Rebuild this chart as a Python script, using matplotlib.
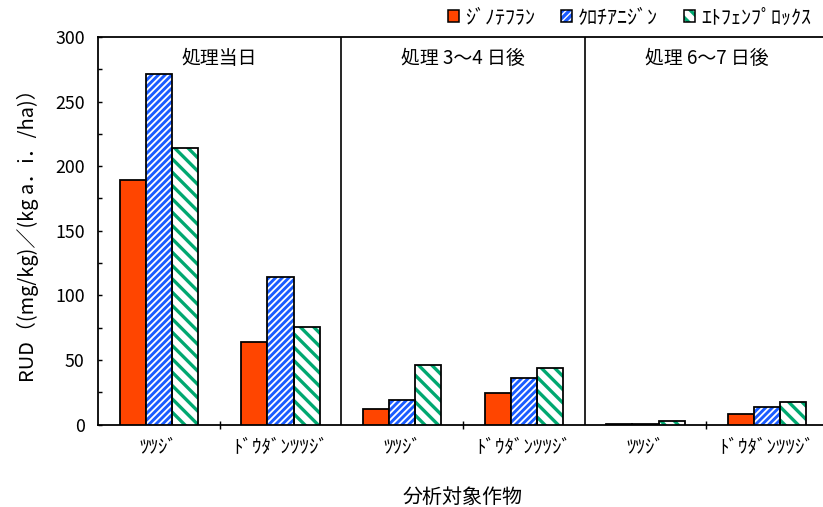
import numpy as np
import matplotlib
matplotlib.use("Agg")
import matplotlib.pyplot as plt
from matplotlib.patches import Patch
from matplotlib.legend_handler import HandlerTuple
from matplotlib.ticker import MultipleLocator

plt.rcParams['font.family'] = ['Noto Sans CJK JP', 'DejaVu Sans']

# crops, two per treatment period
crops = ['ﾂﾂｼﾞ', 'ﾄﾞｳﾀﾞﾝﾂﾂｼﾞ', 'ﾂﾂｼﾞ', 'ﾄﾞｳﾀﾞﾝﾂﾂｼﾞ', 'ﾂﾂｼﾞ', 'ﾄﾞｳﾀﾞﾝﾂﾂｼﾞ']
periods = ['処理当日', '処理 3〜4 日後', '処理 6〜7 日後']
pesticides = ['ｼﾞﾉﾃﾌﾗﾝ', 'ｸﾛﾁｱﾆｼﾞﾝ', 'ｴﾄﾌｪﾝﾌﾟﾛｯｸｽ']

dinotefuran = [189.5, 63.8, 12.3, 24.6, 0.3, 8.4]
clothianidin = [271.5, 114.3, 19.0, 36.2, 0.6, 13.7]
etofenprox = [214.0, 75.8, 45.8, 43.5, 2.6, 17.4]

colors = ['#ff4500', '#1a5cff', '#00a870']
hatches = [None, '////', '\\\\']
hatch_lw = [1.0, 2.6, 3.0]

DPI = 80
fig = plt.figure(figsize=(823 / DPI, 507 / DPI), dpi=DPI)
ax = fig.add_axes([98 / 823, 82.5 / 507, 730 / 823, 387.5 / 507])

x = np.arange(len(crops))
w = 0.214
handles = []
for i, vals in enumerate([dinotefuran, clothianidin, etofenprox]):
    pos = x + (i - 1) * w
    if hatches[i] is None:
        ax.bar(pos, vals, w, color=colors[i], edgecolor='black', linewidth=1.6, zorder=3)
        handles.append(Patch(facecolor=colors[i], edgecolor='black', linewidth=1.4))
    else:
        plt.rcParams['hatch.linewidth'] = hatch_lw[i]
        ax.bar(pos, vals, w, color='white', edgecolor=colors[i], hatch=hatches[i],
               linewidth=0, zorder=3)
        ax.bar(pos, vals, w, color='none', edgecolor='black', linewidth=1.6, zorder=4)
        h1 = Patch(facecolor='white', edgecolor=colors[i], hatch=hatches[i], linewidth=0)
        h2 = Patch(facecolor='none', edgecolor='black', linewidth=1.4)
        handles.append((h1, h2))

ax.set_xlim(-0.5, 5.5)
ax.set_ylim(0, 300)

# panel separators and titles
for b in [1.5, 3.5]:
    ax.axvline(b, color='black', linewidth=1.5, zorder=5)
for k, p in enumerate(periods):
    ax.text(2 * k + 0.5, 283, p, ha='center', va='center', fontsize=17)

ax.set_xticks(x)
ax.set_xticklabels(crops, fontsize=17)
ax.set_xticks([0.5, 2.5, 4.5], minor=True)
ax.tick_params(axis='x', which='major', length=0, pad=11)
ax.tick_params(axis='x', which='minor', direction='inout', length=8, width=1.3)

ax.yaxis.set_major_locator(MultipleLocator(50))
ax.yaxis.set_minor_locator(MultipleLocator(25))
ax.tick_params(axis='y', which='both', direction='in', length=4, width=1.3, labelsize=16, pad=12)

for s in ['left', 'bottom', 'top']:
    ax.spines[s].set_linewidth(1.6)
ax.spines['right'].set_visible(False)

ax.set_ylabel('RUD（(mg/kg)／(kg a．i．/ha)）', fontsize=18, labelpad=14)
ax.set_xlabel('分析対象作物', fontsize=18, labelpad=26)

fig.legend(handles, pesticides, loc='center right', bbox_to_anchor=(1.0, 1 - 18 / 507),
           ncol=3, frameon=False, fontsize=18, handlelength=0.55, handleheight=0.55,
           handletextpad=0.3, columnspacing=1.3, borderaxespad=0.2,
           handler_map={tuple: HandlerTuple(ndivide=1)})

fig.savefig('out.png', dpi=DPI)
